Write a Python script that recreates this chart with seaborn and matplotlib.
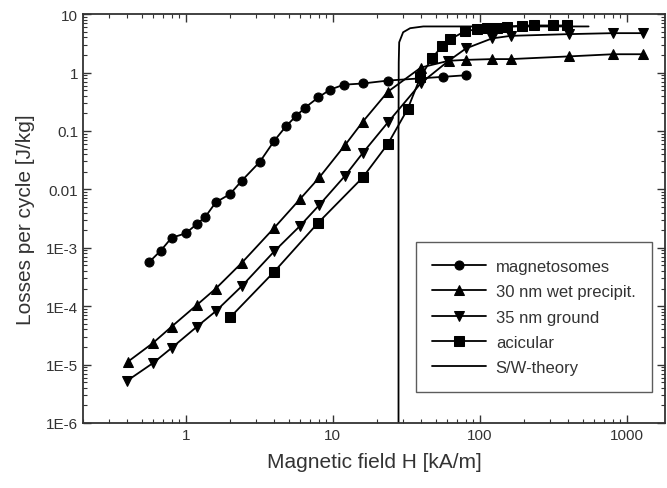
import numpy as np
import pandas as pd
import seaborn as sns
import matplotlib.pyplot as plt
from matplotlib.ticker import FixedLocator, FixedFormatter, LogLocator, NullFormatter

# magnetosomes (circles)
mag_h = [0.56, 0.675, 0.80, 1.0, 1.20, 1.36, 1.60, 2.0, 2.40, 3.19, 4.0, 4.8, 5.62,
         6.47, 7.97, 9.58, 11.9, 16.0, 23.8, 56.2, 80.6]
mag_loss = [5.6e-4, 8.9e-4, 1.48e-3, 1.77e-3, 2.6e-3, 3.4e-3, 6.0e-3, 8.3e-3, 0.014,
            0.0296, 0.068, 0.12, 0.18, 0.25, 0.375, 0.51, 0.62, 0.65, 0.73, 0.845, 0.90]

# 30 nm wet precipitated (up triangles)
wet_h = [0.404, 0.598, 0.80, 1.19, 1.60, 2.40, 4.0, 5.98, 8.1, 12.1, 16.0, 23.7,
         39.8, 61.4, 80.6, 121, 162, 403, 806, 1290]
wet_loss = [1.12e-5, 2.34e-5, 4.45e-5, 1.05e-4, 2.0e-4, 5.5e-4, 2.2e-3, 6.8e-3, 0.016,
            0.057, 0.144, 0.47, 1.22, 1.59, 1.65, 1.70, 1.70, 1.89, 2.06, 2.06]

# 35 nm ground (down triangles)
gnd_h = [0.40, 0.598, 0.80, 1.19, 1.60, 2.40, 4.0, 5.98, 8.1, 12.1, 16.0, 23.7,
         39.8, 61.0, 80.6, 121, 162, 403, 806, 1290]
gnd_loss = [5.3e-6, 1.06e-5, 1.92e-5, 4.45e-5, 8.2e-5, 2.19e-4, 8.7e-4, 2.36e-3, 5.4e-3,
            0.017, 0.042, 0.14, 0.66, 1.57, 2.59, 3.84, 4.25, 4.55, 4.73, 4.73]

# acicular (squares)
aci_h = [2.0, 4.0, 7.9, 16.0, 23.7, 32.3, 39.4, 47.3, 55.3, 63, 78.9, 95.9, 112,
         130, 152, 194, 233, 314, 394]
aci_loss = [6.4e-5, 3.9e-4, 2.63e-3, 0.016, 0.060, 0.237, 0.83, 1.77, 2.8, 3.73, 5.06,
            5.54, 5.75, 5.9, 6.07, 6.36, 6.4, 6.4, 6.4]

# S/W-theory
sw_h = [28.0, 28.0, 28.1, 28.3, 30.1, 33.6, 41.3, 100, 550]
sw_loss = [1e-7, 0.1, 1.5, 3.3, 4.9, 5.75, 6.16, 6.16, 6.16]

series = [
    ("magnetosomes", mag_h, mag_loss, "o", 6.5),
    ("30 nm wet precipit.", wet_h, wet_loss, "^", 7.5),
    ("35 nm ground", gnd_h, gnd_loss, "v", 7.5),
    ("acicular", aci_h, aci_loss, "s", 7.5),
    ("S/W-theory", sw_h, sw_loss, None, 0),
]

y_ticks = [1e-6, 1e-5, 1e-4, 1e-3, 0.01, 0.1, 1, 10]
y_labels = ["1E-6", "1E-5", "1E-4", "1E-3", "0.01", "0.1", "1", "10"]
x_ticks = [1, 10, 100, 1000]
x_labels = ["1", "10", "100", "1000"]

sns.set_style("ticks")
plt.rcParams["font.family"] = ["Liberation Sans", "DejaVu Sans"]
plt.rcParams["text.color"] = "#333333"
plt.rcParams["axes.labelcolor"] = "#333333"
plt.rcParams["xtick.color"] = "#333333"
plt.rcParams["ytick.color"] = "#333333"

fig = plt.figure(figsize=(6.67, 4.89), dpi=100)
ax = fig.add_axes([0.1245, 0.133, 0.8725, 0.836])

for name, h, loss, mk, ms in series:
    df = pd.DataFrame({"H": h, "loss": loss})
    sns.lineplot(data=df, x="H", y="loss", ax=ax, estimator=None, color="black",
                 linewidth=1.3, marker=mk, markersize=ms, markeredgecolor="black",
                 label=name)

ax.set_xscale("log")
ax.set_yscale("log")
ax.set_xlim(0.2, 1820)
ax.set_ylim(1e-6, 10)

ax.xaxis.set_major_locator(FixedLocator(x_ticks))
ax.xaxis.set_major_formatter(FixedFormatter(x_labels))
ax.yaxis.set_major_locator(FixedLocator(y_ticks))
ax.yaxis.set_major_formatter(FixedFormatter(y_labels))
ax.xaxis.set_minor_locator(LogLocator(base=10, subs=np.arange(2, 10), numticks=20))
ax.yaxis.set_minor_locator(LogLocator(base=10, subs=np.arange(2, 10), numticks=20))
ax.xaxis.set_minor_formatter(NullFormatter())
ax.yaxis.set_minor_formatter(NullFormatter())

ax.tick_params(which="both", direction="in", top=True, right=True, labelsize=11,
               color="#333333")
ax.tick_params(which="major", length=6, width=1.0)
ax.tick_params(which="minor", length=3, width=0.8)
for s in ax.spines.values():
    s.set_color("#333333")
    s.set_linewidth(1.3)

ax.set_xlabel("Magnetic field H [kA/m]", fontsize=15, labelpad=7)
ax.set_ylabel("Losses per cycle [J/kg]", fontsize=15, labelpad=8)

leg = ax.legend(loc="lower right", bbox_to_anchor=(0.978, 0.076), borderaxespad=0,
                fontsize=12, handlelength=3.2, handletextpad=0.6, numpoints=1,
                frameon=True, fancybox=False, borderpad=1.0, labelspacing=0.62,
                edgecolor="#333333")
leg.get_frame().set_linewidth(1.0)

fig.savefig("out.png", dpi=100)
